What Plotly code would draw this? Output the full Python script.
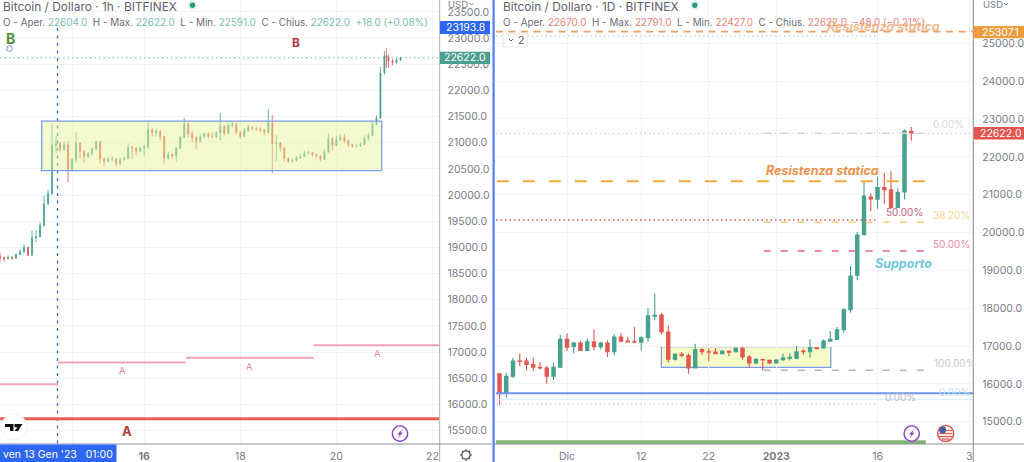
import plotly.graph_objects as go

W, H = 1024, 462
AXIS_Y = 444
FONT = "Inter"
TEAL = "#47a08f"
RED = "#e2574f"
GRID = "#f1f3f8"
AXTXT = "#787b86"

# ---------- left chart data (hours from chart start; bars)
left_hours = [0,2,4,6,8,10,12,14,16,18,20,22,24,26,28,30,32,34,36,38,40,42,44,46,48,50,52,54,56,58,60,62,64,66,68,70,72,74,76,78,
80,82,84,86,88,90,92,94,96,98,100,102,104,106,108,110,112,114,116,118,120,122,124,126,128,130,132,134,136,138,140,142,144,146,148,150,152,154,156,158,
160,162,164,166,168,170,172,174,176,178,180,182,184,186,188,190,192,193,194,196,198,200]
left_close = [18800,18780,18810,18790,18860,18920,19000,18850,19180,19200,19420,19830,20030,20950,20980,20870,20960,20480,20680,20990,
20830,20740,20790,20880,21020,20690,20640,20690,20690,20600,20680,20700,20910,20900,20840,20890,20920,21250,21190,21220,
21120,20700,20770,20740,20890,21100,21360,21170,21090,21020,21110,21170,21120,21110,21190,21310,21180,21330,21360,21200,
21120,21230,21290,21270,21260,21240,21190,21380,20980,21000,20900,20700,20640,20660,20710,20730,20800,20810,20770,20740,
20680,20820,21080,20950,21060,21110,21040,20960,20930,20940,20960,21080,21140,21350,21470,22330,22660,22640,22560,22530,22580,22622]
left_high = [18900,18830,18850,18830,18900,18960,19060,19010,19320,19330,19480,19990,20100,21360,21120,21010,21020,21030,20700,21210,
21000,20870,20820,20910,21050,21020,20720,20730,20740,20710,20720,20740,20990,20950,20910,20930,20960,21420,21290,21260,
21230,21130,20830,20800,20920,21130,21470,21380,21220,21130,21160,21190,21200,21200,21220,21570,21330,21370,21400,21370,
21220,21280,21340,21310,21300,21290,21260,21640,21520,21150,21010,20920,20720,20700,20760,20790,20840,20850,20830,20790,
20760,20880,21170,21100,21130,21150,21160,21060,20980,20970,21000,21140,21190,21420,21520,22450,22750,22800,22680,22600,22620,22640]
left_low = [18700,18730,18770,18760,18780,18850,18880,18830,18840,19100,19190,19400,19800,20000,20800,20820,20840,20240,20450,20610,
20700,20620,20700,20760,20840,20600,20550,20620,20640,20540,20560,20650,20680,20680,20760,20820,20750,20880,21120,21120,
21040,20600,20680,20690,20640,20880,21090,21100,21010,20880,21000,21090,21080,21090,21100,21040,21120,21170,21290,21150,
21080,21110,21210,21230,21220,21190,21140,21170,20420,20650,20830,20640,20610,20620,20640,20690,20720,20770,20730,20700,
20640,20670,20810,20860,20930,21030,20990,20920,20900,20900,20920,20950,21040,21130,21330,21460,22300,22430,22430,22480,22510,22560]
left_open = [18830] + left_close[:-1]
left_tickvals = [36, 72, 120, 168, 216]
left_ticktext = ["", "<b>16</b>", "18", "20", "22"]
left_yticks = list(range(15500, 24000, 500))
left_range_x = [0, 219.5]
left_range_y = [15242, 23726]

# ---------- right chart data (daily)
right_dates = ["2022-11-21","2022-11-22","2022-11-23","2022-11-24","2022-11-25","2022-11-26","2022-11-27","2022-11-28","2022-11-29","2022-11-30",
"2022-12-01","2022-12-02","2022-12-03","2022-12-04","2022-12-05","2022-12-06","2022-12-07","2022-12-08","2022-12-09","2022-12-10",
"2022-12-11","2022-12-12","2022-12-13","2022-12-14","2022-12-15","2022-12-16","2022-12-17","2022-12-18","2022-12-19","2022-12-20",
"2022-12-21","2022-12-22","2022-12-23","2022-12-24","2022-12-25","2022-12-26","2022-12-27","2022-12-28","2022-12-29","2022-12-30",
"2022-12-31","2023-01-01","2023-01-02","2023-01-03","2023-01-04","2023-01-05","2023-01-06","2023-01-07","2023-01-08","2023-01-09",
"2023-01-10","2023-01-11","2023-01-12","2023-01-13","2023-01-14","2023-01-15","2023-01-16","2023-01-17","2023-01-18","2023-01-19",
"2023-01-20","2023-01-21"]
right_open = [16265,15745,16200,16600,16600,16510,16440,16420,16200,16440,17180,16980,17080,16885,17115,16980,17080,16850,17240,17130,
17110,17100,17220,17790,17820,17370,16650,16780,16750,16420,16910,16850,16840,16800,16860,16850,16940,16710,16550,16640,
16620,16550,16640,16680,16680,16870,16850,16950,16950,17130,17180,17430,17960,18870,19940,20940,20880,21190,21130,20660,21070,22670]
right_high = [16290,16290,16690,16800,16690,16690,16580,16470,16560,17290,17330,17110,17130,17200,17440,17110,17150,17310,17350,17240,
17500,17260,18000,18390,17870,17550,16800,16850,16800,17060,16940,16940,16950,16900,16880,16960,16980,16760,16680,16670,
16650,16660,16800,16800,17000,16930,17180,16970,17170,17400,17500,18000,19120,20010,21350,21040,21470,21570,21620,21160,22725,22791]
right_low = [15450,15630,16160,16470,16350,16340,16380,16000,16100,16420,16870,16800,16885,16885,16885,16910,16710,16760,17100,17100,
17090,16885,17115,17680,17300,16560,16620,16710,16265,16420,16760,16600,16780,16780,16730,16830,16640,16420,16520,16350,
16520,16530,16600,16620,16660,16760,16690,16910,16930,17110,17160,17350,17880,18740,19930,20570,20630,20760,20660,20650,20870,22427]
right_close = [15743,16200,16600,16590,16510,16440,16420,16200,16440,17180,16970,17080,16885,17115,16980,17080,16850,17240,17130,17110,
17100,17220,17800,17810,17370,16650,16780,16750,16420,16910,16850,16840,16800,16860,16840,16940,16710,16550,16650,16630,
16550,16630,16680,16700,16850,16850,16960,16930,17130,17180,17430,17960,18850,19930,20960,20885,21190,21130,20660,21060,22680,22622]
right_tickvals = ["2022-12-01","2022-12-12","2022-12-22","2023-01-01","2023-01-16","2023-01-29 14:00"]
right_ticktext = ["Dic","12","22","<b>2023</b>","16","3"]
right_yticks = list(range(15000, 26000, 1000))
right_range_x = ["2022-11-20 06:15", "2023-01-30 04:30"]
right_range_y = [14411, 26144]

# ---------- level lines
left_box = [20465, 21412]
left_last = 22622
left_pink = [16386, 16800, 16888, 17130]
left_red = 15723
right_box = [16434, 16982]
right_res_top = 25307.1
right_dots_top = 25190
right_last = 22622
right_res = 21353
right_dot_red = 20330
fib_382 = 20270
fib_50 = 19510
fib_100 = 16357
right_blue = 15750
right_cyan = 15585
right_dots_low = 15470

fig = go.Figure()
XE = 973.3
XL = [0, 439.5 / W]
XR = [494.5 / W, XE / W]
YD = [(H - AXIS_Y) / H, 1]

def px(x):
    return x / W
def py(y):
    return 1 - y / H

fig.add_trace(go.Candlestick(x=left_hours, open=left_open, high=left_high, low=left_low, close=left_close,
    xaxis="x", yaxis="y", name="1h", showlegend=False,
    increasing=dict(line=dict(color=TEAL, width=0.8), fillcolor=TEAL),
    decreasing=dict(line=dict(color=RED, width=0.8), fillcolor=RED)))
fig.add_trace(go.Candlestick(x=right_dates, open=right_open, high=right_high, low=right_low, close=right_close,
    xaxis="x2", yaxis="y2", name="1D", showlegend=False,
    increasing=dict(line=dict(color=TEAL, width=1.1), fillcolor=TEAL),
    decreasing=dict(line=dict(color=RED, width=1.1), fillcolor=RED)))

shapes = []
def rect(x0, y0, x1, y1, fill, line=None, lw=0, layer="above"):
    shapes.append(dict(type="rect", xref="paper", yref="paper", x0=px(x0), x1=px(x1), y0=py(y1), y1=py(y0),
                       fillcolor=fill, line=dict(color=line or "rgba(0,0,0,0)", width=lw), layer=layer))
def pline(x0, y0, x1, y1, color, w=1, dash="solid", layer="above"):
    shapes.append(dict(type="line", xref="paper", yref="paper", x0=px(x0), x1=px(x1), y0=py(y0), y1=py(y1),
                       line=dict(color=color, width=w, dash=dash), layer=layer))
def level(axis, x0, x1, v, color, w=1, dash="solid", layer="above"):
    shapes.append(dict(type="line", xref="paper", yref=axis, x0=px(x0), x1=px(x1), y0=v, y1=v,
                       line=dict(color=color, width=w, dash=dash), layer=layer))
def box(axis, x0, x1, lo, hi, fill, line, lw, layer):
    shapes.append(dict(type="rect", xref="paper", yref=axis, x0=px(x0), x1=px(x1), y0=lo, y1=hi,
                       fillcolor=fill, line=dict(color=line, width=lw), layer=layer))
def circle(cx, cy, r, fill="rgba(0,0,0,0)", line=None, lw=0):
    shapes.append(dict(type="circle", xref="paper", yref="paper", x0=px(cx - r), x1=px(cx + r), y0=py(cy + r), y1=py(cy - r),
                       fillcolor=fill, line=dict(color=line or "rgba(0,0,0,0)", width=lw), layer="above"))
def poly(points, fill):
    d = "M " + " L ".join(f"{px(a):.5f},{py(b):.5f}" for a, b in points) + " Z"
    shapes.append(dict(type="path", xref="paper", yref="paper", path=d, fillcolor=fill,
                       line=dict(color="rgba(0,0,0,0)", width=0), layer="above"))

anns = []
def text(x, y, s, size=11, color=AXTXT, anchor="left", family=FONT, opacity=None):
    a = dict(x=px(x), y=py(y), xref="paper", yref="paper", text=s, showarrow=False, xanchor=anchor, yanchor="middle",
             borderpad=0, font=dict(size=size, color=color, family=family))
    if opacity is not None:
        a["opacity"] = opacity
    anns.append(a)

def ohlc(x, y, vals, chg, col):
    sp = "&nbsp;"
    parts = [("O - Aper.", vals[0]), ("H - Max.", vals[1]), ("L - Min.", vals[2]), ("C - Chius.", vals[3])]
    s = (sp + sp).join(f'{k}<span style="color:{col}">{sp}{v}</span>' for k, v in parts)
    s += f'{sp}{sp}<span style="color:{col}">{chg}</span>'
    text(x, y, s, size=9.9, color="#6a6d78")

FIB0, FIB1 = 763.7, 926.3
DOTS_END = 876.2
D_RES = "12px,14px"
D_FIB = "7px,10px"
D_TOP = "7px,5.5px"
D_DOT = "1.5px,3px"

# ---- left panel lines
level("y", 0, 439, left_last, "#5cc0ab", 1, D_DOT)
pline(57.5, 28, 57.5, AXIS_Y, "#2f74f0", 1.3, "3px,4.5px")
box("y", 41.7, 381.7, left_box[0], left_box[1], "rgba(228,246,146,0.45)", "#7d9cec", 1.3, "above")
level("y", 0, 58, left_pink[0], "#f0a3b6", 2)
level("y", 58, 185.5, left_pink[1], "#f0a3b6", 2)
level("y", 186, 313.5, left_pink[2], "#f0a3b6", 2)
level("y", 314, 439, left_pink[3], "#f0a3b6", 2)
level("y", 0, 439, left_red, "#ec5f50", 3)
# ---- right panel lines
box("y2", 661.4, 830.8, right_box[0], right_box[1], "#f6fcc8", "#7d9cec", 1.3, "below")
level("y2", 496, XE, right_res_top, "#ee9f62", 1.6, D_TOP)
level("y2", 496, DOTS_END, right_dots_top, "#b9bcc4", 1, D_DOT)
level("y2", 496, XE, right_last, "#f2b5b5", 1, D_DOT)
level("y2", FIB0, FIB1, right_last, "#d3d5da", 1.5, D_FIB)
level("y2", 496.8, FIB1, right_res, "#f5aa42", 2, D_RES)
level("y2", 496, DOTS_END, right_dot_red, "#d9544f", 1.5, D_DOT)
level("y2", FIB0, FIB1, fib_382, "#f6cd7c", 1.5, D_FIB)
level("y2", FIB0, FIB1, fib_50, "#e9628b", 1.5, D_FIB)
level("y2", FIB0, FIB1, fib_100, "#b4b6bc", 1.5, D_FIB)
level("y2", 496, XE, right_blue, "#6f93ee", 2)
level("y2", 496, XE, right_cyan, "#d5eef8", 1)
level("y2", 496, DOTS_END, right_dots_low, "#b9bcc4", 1, D_DOT)
rect(496, 440.3, 925.7, 444, "#81b372")

# ---- frame and axis furniture
pline(439.6, 0, 439.6, H, "#b8bac0", 1.2)
pline(XE, 0, XE, H, "#9a9ca3", 1.2)
pline(0, AXIS_Y, 492, AXIS_Y, "#8d8f96", 1)
pline(494, AXIS_Y, 1024, AXIS_Y, "#8d8f96", 1)
pline(493.6, 0, 493.6, H, "#4f7ff2", 2.2)

# pills
rect(440, 21, 490, 34, "#2e66f6")
text(465, 27.7, "23193.8", 10.5, "#ffffff", "center")
rect(440, 51.8, 490, 64, "#4a9f8e")
text(465, 58, "22622.0", 10.5, "#ffffff", "center")
rect(XE + 0.3, 26, 1024, 38.3, "#ef9b3f")
text(1000.5, 32.2, "25307.1", 10.5, "#ffffff", "center")
rect(XE + 0.3, 127, 1024, 139.5, "#e1544f")
text(1000.5, 133.3, "22622.0", 10.5, "#ffffff", "center")
rect(0, 444.6, 116.5, H, "#2e66f6")
text(2, 454.5, "ven 13 Gen '23&nbsp;&nbsp;&nbsp;01:00", 10.5, "#ffffff")

# USD menus
for x0 in (447, 981.5):
    rect(x0 - 2, 0, x0 + 30, 8, "#ffffff")
    text(x0, 4.6, "USD", 9.5, AXTXT)
    pline(x0 + 22.5, 3, x0 + 24.5, 5, AXTXT, 1)
    pline(x0 + 24.5, 5, x0 + 26.5, 3, AXTXT, 1)

# status dots
for cx in (192.5, 694.8):
    circle(cx, 5.3, 5, "#e4f2ee")
    circle(cx, 5.3, 2.7, "#2c9a80")
circle(9.5, 48.5, 2.8, "#ffffff", "#6f8fec", 1)

# TradingView badge
circle(14, 427, 13, "#ffffff", "#f2f2f4", 1)
poly([(5, 424), (13.5, 424), (13.5, 431), (10, 431), (10, 427), (5, 427)], "#111111")
poly([(14.5, 424), (22.5, 424), (18, 431), (14.5, 431), (17.5, 427.2), (14.5, 427.2)], "#111111")

# bolt badges
for cx in (400, 911.7):
    circle(cx, 433.6, 7.7, "#ffffff", "#8b3fc4", 1.4)
    poly([(cx + 2.6, 428.7), (cx - 2.6, 434.4), (cx - 0.3, 434.4), (cx - 2.2, 438.4), (cx + 2.8, 432.6), (cx + 0.5, 432.6)], "#8b3fc4")

# flag badge
FLAG = 945.7
circle(FLAG, 433.5, 8, "#ffffff", "#e2574f", 1.5)
for yy in (430.5, 433.5, 436.5, 439):
    half = 6.5 if yy < 438 else 4
    pline(FLAG - half, yy, FLAG + half, yy, "#e2574f", 1.3)
circle(FLAG - 3, 430, 3.4, "#3f5fa8")

# "2" collapse button
rect(503, 34, 527.5, 47, "#ffffff", "#e6e7eb", 1)
pline(509, 39, 511, 41, "#555860", 1)
pline(511, 41, 513, 39, "#555860", 1)
text(517, 40.3, "2", 10.5, "#555860")

# gear
circle(466, 455, 4.2, "#ffffff", "#55585f", 1.3)
for dx, dy in [(0, 5.7), (0, -5.7), (5.7, 0), (-5.7, 0), (4, 4), (-4, 4), (4, -4), (-4, -4)]:
    pline(466 + dx * 0.75, 455 + dy * 0.75, 466 + dx, 455 + dy, "#55585f", 1.3)

# headings
text(2, 6, "Bitcoin / Dollaro · 1h · BITFINEX", 11.9, "#5f626c")
text(502, 6, "Bitcoin / Dollaro · 1D · BITFINEX", 11.9, "#5f626c")
ohlc(2, 22.3, ["22604.0", "22622.0", "22591.0", "22622.0"], "+18.0 (+0.08%)", "#79bdb0")
ohlc(502, 22.3, ["22670.0", "22791.0", "22427.0", "22622.0"], "−48.0 (−0.21%)", "#ea7f78")

# left labels
text(10, 39, "<b>B</b>", 14, "#4f9140", "center")
text(296, 42.5, "<b>B</b>", 12, "#b23b3f", "center")
text(122, 370, "A", 9.5, "#ec7f9c", "center")
text(249.5, 366, "A", 9.5, "#ec7f9c", "center")
text(377.5, 353, "A", 9.5, "#ec7f9c", "center")
text(127, 431, "<b>A</b>", 13, "#b23b3f", "center")

# right labels
text(825.7, 27, "<b><i>Resistenza statica</i></b>", 12.5, "#efab78", opacity=0.8)
text(765.4, 170, "<b><i>Resistenza statica</i></b>", 12.5, "#ee9148")
text(874, 263.5, "<b><i>Supporto</i></b>", 12.5, "#71c8df")
text(932.4, 124, "0.00%", 10, "#d6d8dc")
text(932.4, 215, "38.20%", 10, "#f5d493")
text(932.4, 244, "50.00%", 10, "#ef88a4")
text(885.4, 212.5, "50.00%", 10, "#c4637e")
text(933, 363, "100.00%", 10, "#c8cace")
text(938, 392, "0.00%", 10, "#bfe5f2")
text(884.3, 397, "0.00%", 10, "#b9bbc1")

axis_common = dict(showgrid=True, gridcolor=GRID, gridwidth=1, zeroline=False, showline=False, ticks="",
                   tickfont=dict(size=10.5, color=AXTXT, family=FONT))
fig.update_layout(
    width=W, height=H, margin=dict(l=0, r=0, t=0, b=0), autosize=False,
    paper_bgcolor="#ffffff", plot_bgcolor="#ffffff", showlegend=False,
    font=dict(family=FONT, color=AXTXT),
    xaxis=dict(domain=XL, range=left_range_x, anchor="y", tickmode="array", tickvals=left_tickvals, ticktext=left_ticktext,
               rangeslider=dict(visible=False), ticklabelstandoff=4, **axis_common),
    yaxis=dict(domain=YD, range=left_range_y, anchor="x", side="right", tickmode="array", tickvals=left_yticks,
               tickformat=".1f", ticklabelstandoff=7, **axis_common),
    xaxis2=dict(domain=XR, range=right_range_x, type="date", anchor="y2", tickmode="array", tickvals=right_tickvals,
                ticktext=right_ticktext, rangeslider=dict(visible=False), ticklabelstandoff=4, **axis_common),
    yaxis2=dict(domain=YD, range=right_range_y, anchor="x2", side="right", tickmode="array", tickvals=right_yticks,
                tickformat=".1f", ticklabelstandoff=8, **axis_common),
    shapes=shapes, annotations=anns,
)
fig.write_html("out.html", config={"displayModeBar": False},
               post_script="document.body.style.margin='0';document.body.style.overflow='hidden';")
